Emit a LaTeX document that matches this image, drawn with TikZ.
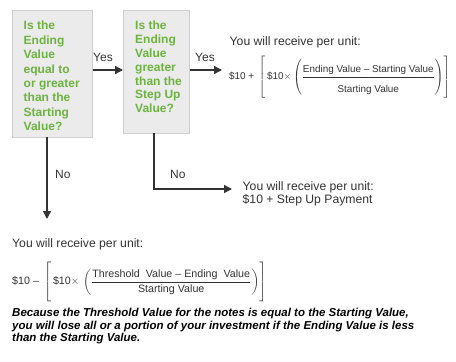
\documentclass[tikz,border=0pt]{standalone}
\usepackage{amsmath}
\usepackage{fontspec}
\setmainfont{Liberation Sans}
\usetikzlibrary{arrows.meta}
\definecolor{qgreen}{HTML}{6CB33F}
\definecolor{boxfill}{HTML}{EBEBEB}
\definecolor{boxline}{HTML}{CFCFCF}
\definecolor{txt}{HTML}{333333}
\newcommand{\fsza}{\fontsize{9.9}{10}\selectfont}
\newcommand{\fszb}{\fontsize{10.7}{11}\selectfont}
\newcommand{\tallstrut}{\vrule height 17pt depth 19pt width 0pt}
\begin{document}
\begin{tikzpicture}[x=1pt,y=-1pt,
  qbox/.style={draw=boxline, line width=1.2pt, fill=boxfill, anchor=north west, inner sep=0pt},
  qtext/.style={anchor=north west, inner sep=0pt, text=qgreen, font=\fontsize{12}{14.4}\selectfont\bfseries, align=left},
  plain/.style={inner sep=0pt, text=txt, font=\fontsize{12.2}{13}\selectfont, align=left},
  conn/.style={draw=txt, line width=1.4pt, -{Triangle[length=8pt,width=8pt]}},
  lbl/.style={inner sep=0pt, text=txt, font=\fontsize{12}{13}\selectfont}
]
\useasboundingbox (0,0) rectangle (456,362);
% boxes
\node[qbox, minimum width=80pt, minimum height=127pt] (b1) at (12,10) {};
\node[qbox, minimum width=66pt, minimum height=123pt] (b2) at (123,10) {};
\node[qtext] (t1) at (23.5,21) {Is the\\Ending\\Value\\equal to\\or greater\\than the\\Starting\\Value?};
\node[qtext, font=\fontsize{12}{13.8}\selectfont\bfseries] (t2) at (135,21) {Is the\\Ending\\Value\\greater\\than the\\Step Up\\Value?};
% coordinates
\coordinate (y1a) at (b1.east |- 0,70);
\coordinate (y1b) at (b2.west |- 0,70);
\coordinate (y2a) at (b2.east |- 0,70);
\coordinate (y2b) at (222,70);
\coordinate (d1a) at (47,137);
\coordinate (d1b) at (47,219);
\coordinate (d2a) at (154,133);
\coordinate (d2c) at (154,189);
\coordinate (d2b) at (232,189);
% connectors
\draw[conn] (y1a) -- (y1b);
\draw[conn] (y2a) -- (y2b);
\draw[conn] (d1a) -- (d1b);
\draw[conn] (d2a) -- (d2c) -- (d2b);
% labels
\node[lbl] (yes1) at (103,57) {Yes};
\node[lbl] (yes2) at (205,57) {Yes};
\node[lbl, anchor=west] (no1) at (55,174) {No};
\node[lbl, anchor=west] (no2) at (170,174) {No};
% top right result
\node[plain, anchor=west] (r1) at (229.5,42) {You will receive per unit:};
\node[inner sep=0pt, text=txt, anchor=west] (f1) at (229,77) {\fsza
 $\mbox{\$10}\;\mbox{+}\;\left[\tallstrut\,\mbox{\$10}{\times}\left(\dfrac{\mbox{Ending Value -- Starting Value}\rule[-3pt]{0pt}{6pt}}{\rule{0pt}{14pt}\mbox{Starting Value}}\right)\right]$};
% middle result
\node[plain, anchor=north west] (r2) at (242.5,181.5) {You will receive per unit:\\[-0.5pt]\$10 + Step Up Payment};
% bottom result
\node[plain, anchor=west] (r3) at (12,244) {You will receive per unit:};
\node[inner sep=0pt, text=txt, anchor=west] (f2) at (12,283) {\fszb
 $\mbox{\$10}\;\mbox{--}\;\left[\tallstrut\,\mbox{\$10}{\times}\,\left(\dfrac{\mbox{Threshold\ \ Value -- Ending\ \ Value}}{\mbox{Starting Value}}\right)\right]$};
\node[inner sep=0pt, anchor=north west, text=black, font=\fontsize{11.5}{12.6}\selectfont\bfseries\itshape, align=left] (note) at (12,308)
 {Because the Threshold Value for the notes is equal to the Starting Value,\\you will lose all or a portion of your investment if the Ending Value is less\\than the Starting Value.};
\end{tikzpicture}
\end{document}
